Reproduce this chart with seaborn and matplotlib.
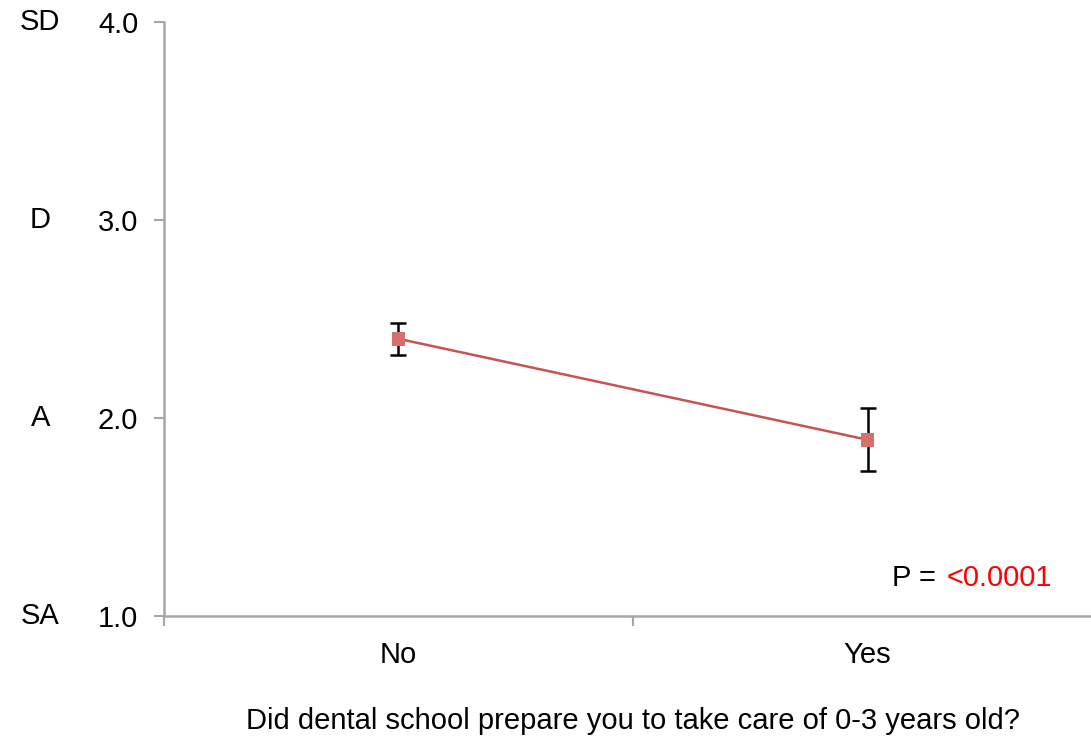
import numpy as np
import pandas as pd
import matplotlib
matplotlib.use("Agg")
import matplotlib.pyplot as plt
import seaborn as sns

# ==============================
# DATA
# ==============================

answers = ["No", "Yes"]
mean_score = [2.40, 1.89]
err_score = [0.08, 0.16]

scale_values = [1.0, 2.0, 3.0, 4.0]
scale_labels = ["SA", "A", "D", "SD"]

x_title = "Did dental school prepare you to take care of 0-3 years old?"
p_label = "P = "
p_value = "<0.0001"

LINE_COLOR = "#c9534f"
MARK_COLOR = "#d6706d"
AXIS_COLOR = "#a6a6a6"
FS = 21

# ==============================
# PLOT
# ==============================

sns.set_style("white")
plt.rcParams["font.family"] = ["Liberation Sans", "DejaVu Sans"]

df = pd.DataFrame({"Answer": answers, "Score": mean_score, "Err": err_score})

fig = plt.figure(figsize=(10.91, 7.38), dpi=100)
ax = fig.add_axes([0.1503, 0.1653, 0.8598, 0.8049])

# error bars behind the markers
ax.errorbar(range(len(answers)), df["Score"], yerr=df["Err"], fmt="none",
            ecolor="black", elinewidth=1.8, capsize=5.5, capthick=1.8, zorder=2)

sns.pointplot(data=df, x="Answer", y="Score", errorbar=None, color=LINE_COLOR,
              markers="s", linewidth=1.8, markersize=0, ax=ax, zorder=3)
ax.scatter(range(len(answers)), df["Score"], marker="s", s=95,
           color=MARK_COLOR, edgecolor="none", zorder=4)

ax.set_xlim(-0.5, len(answers) - 0.5)
ax.set_ylim(1.0, 4.0)

# category boundaries get tick marks, category centres get labels
ax.set_xticks(np.arange(-0.5, len(answers), 1.0))
ax.set_xticklabels([])
ax.set_xticks(range(len(answers)), minor=True)
ax.set_xticklabels(answers, minor=True, fontsize=FS)
ax.tick_params(axis="x", which="major", direction="out", length=7,
               width=1.5, color=AXIS_COLOR, bottom=True)
ax.tick_params(axis="x", which="minor", length=0, pad=18)

ax.set_yticks(scale_values)
ax.set_yticklabels([f"{v:.1f}" for v in scale_values], fontsize=FS)
ax.tick_params(axis="y", direction="out", length=7, width=1.5,
               color=AXIS_COLOR, left=True, pad=11.5)

for side in ["top", "right"]:
    ax.spines[side].set_visible(False)
for side in ["left", "bottom"]:
    ax.spines[side].set_color(AXIS_COLOR)
    ax.spines[side].set_linewidth(1.8)

ax.set_xlabel(x_title, fontsize=FS, labelpad=27, color="black")
ax.set_ylabel("")
ax.tick_params(colors="black", which="both", labelcolor="black")
ax.tick_params(axis="both", which="major", color=AXIS_COLOR)

# agreement scale labels
ytrans = ax.get_yaxis_transform()
for v, lab in zip(scale_values, scale_labels):
    ax.text(-0.132, v, lab, transform=ytrans, fontsize=FS,
            ha="center", va="center", color="black")

ax.text(0.832, 0.064, p_label, transform=ax.transAxes, fontsize=FS,
        ha="right", va="center", color="black")
ax.text(0.834, 0.064, p_value, transform=ax.transAxes, fontsize=FS,
        ha="left", va="center", color="#ff0000")

fig.savefig("out.png", dpi=100)
